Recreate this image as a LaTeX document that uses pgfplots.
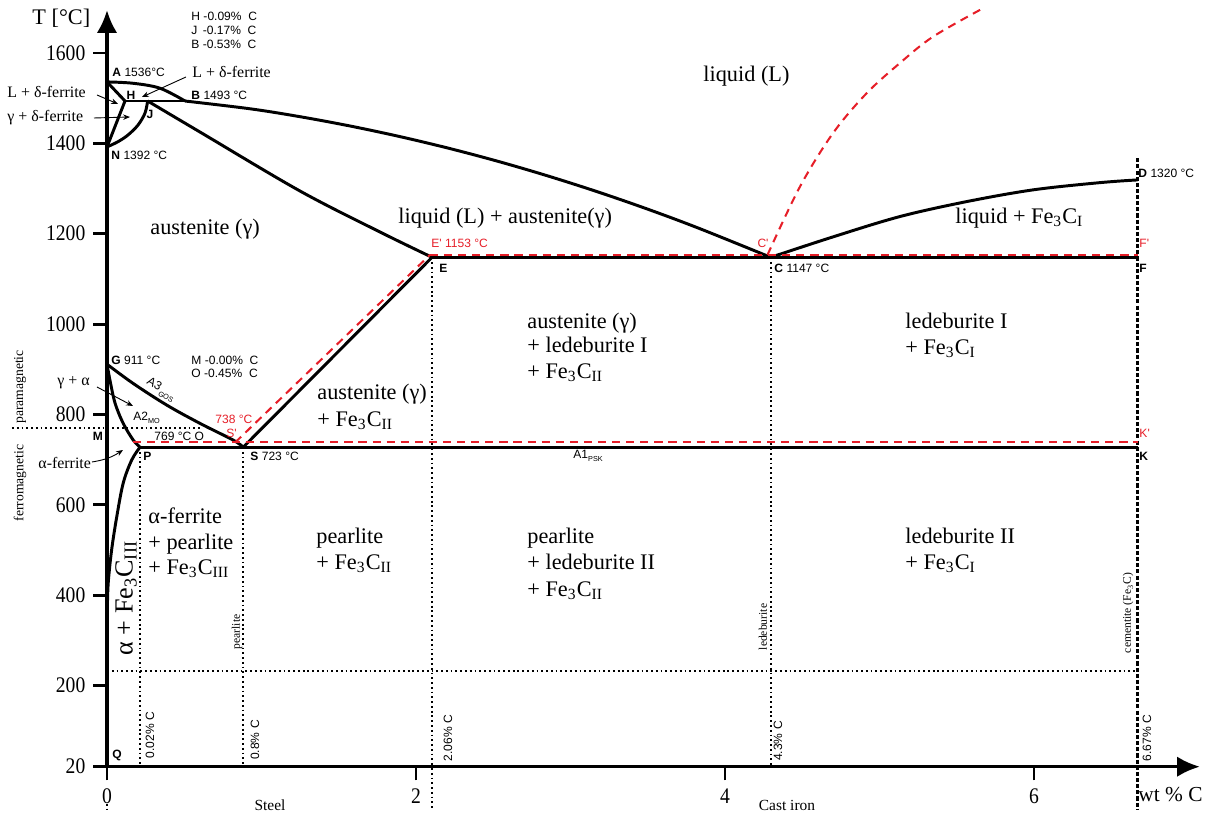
\documentclass[border=0pt]{standalone}
\usepackage{fontspec}
\setmainfont{Liberation Serif}
\newfontfamily\sansf{Liberation Sans}
\newfontfamily\tickf{Liberation Serif}[FakeStretch=0.88]
\usepackage{pgfplots}
\pgfplotsset{compat=1.18}
\usetikzlibrary{arrows.meta}
\definecolor{pred}{RGB}{230,30,40}
\newcommand{\sm}{\sansf\fontsize{5.3}{6}\selectfont}
\newcommand{\rg}{\fontsize{9.8}{11}\selectfont}
\newcommand{\ar}{\fontsize{7}{8}\selectfont}
\newcommand{\rs}{\fontsize{5.1}{6}\selectfont}
\pgfplotsset{
 ph/.style={black, line width=1.3pt, mark=none, line join=round},
 phs/.style={ph, smooth, tension=0.55},
 rd/.style={pred, line width=0.9pt, mark=none, dash pattern=on 3.6pt off 2.6pt},
 dt/.style={black, line width=0.8pt, mark=none, dash pattern=on 0.8pt off 1.3pt},
 ds/.style={black, line width=0.9pt, mark=none, dash pattern=on 1.8pt off 0.9pt},
}
\begin{document}
\begin{tikzpicture}
\begin{axis}[
 x=67.98pt, y=0.19875pt,
 xmin=0, xmax=7.074, ymin=20, ymax=1695,
 axis lines=left,
 axis line style={line width=1.5pt, -{Latex[length=10pt,width=9pt]}},
 clip=false, enlargelimits=false,
 xtick={0,2,4,6}, xticklabels={0,2,4,6},
 ytick={20,200,400,600,800,1000,1200,1400,1600},
 yticklabels={20,200,400,600,800,1000,1200,1400,1600},
 tick align=outside, major tick length=6pt,
 every tick/.append style={black, line width=1.3pt},
 tick label style={font=\tickf\fontsize{9.8}{11}\selectfont},
 minor tick num=0,
]
\coordinate (O) at (axis cs:0,20);
% dotted / dashed guides
\addplot[dt] coordinates {(0.214,727.5) (0.214,20)};
\addplot[dt] coordinates {(0.882,727.5) (0.882,20)};
\addplot[dt] coordinates {(2.104,1147.7) (2.104,-76)};
\addplot[dt] coordinates {(4.296,1147.7) (4.296,20)};
\addplot[ds] coordinates {(6.67,1367) (6.67,-76)};
\addplot[dt] coordinates {(0,231) (6.67,231)};
\addplot[dt] coordinates {(-0.615,770) (0.60,770)};
\addplot[dt] coordinates {(0,-62) (0,-76)};
% delta region
\addplot[ph] coordinates {(0,1536) (0.1165,1493.7)};
\addplot[ph] coordinates {(0.1165,1493.7) (0,1392)};
\addplot[ph] coordinates {(0.1165,1493.7) (0.505,1493.7)};
\addplot[phs] coordinates {(0.263,1493.7) (0.246,1467) (0.201,1440.6) (0.136,1418.5) (0.071,1403.6) (0,1392)};
% liquidus
\addplot[phs] coordinates {(0,1536) (0.168,1533) (0.343,1522) (0.505,1493.7)};
\addplot[phs] coordinates {(0.505,1493.7) (0.926,1476.5) (1.249,1459.0) (1.573,1438.4) (1.896,1414.9) (2.220,1388.4) (2.544,1358.9) (2.867,1326.4) (3.191,1290.9) (3.515,1252.4) (3.838,1211.0) (4.296,1147.7)};
\addplot[phs] coordinates {(4.296,1147.7) (4.70,1193) (5.133,1238) (5.564,1271) (5.994,1297) (6.427,1313) (6.67,1319)};
% solidus
\addplot[phs] coordinates {(0.263,1493.7) (0.602,1425) (1.249,1294.5) (1.767,1203.7) (2.104,1147.7)};
\addplot[ph] coordinates {(2.104,1147.7) (0.882,727.5)};
\addplot[ph] coordinates {(2.104,1147.7) (6.67,1147.7)};
\addplot[ph] coordinates {(0.214,727.5) (6.67,727.5)};
\addplot[phs] coordinates {(0,911) (0.168,868.8) (0.386,820.7) (0.602,780) (0.816,743.2) (0.882,727.5)};
\addplot[phs] coordinates {(0,911) (0.019,876) (0.052,825) (0.105,780) (0.170,743) (0.214,727.5)};
\addplot[phs] coordinates {(0.214,727.5) (0.160,699) (0.105,648) (0.063,573) (0.030,500) (0.008,427) (0.002,367) (0,330)};
% red metastable
\addplot[rd] coordinates {(0.168,738) (6.67,738)};
\addplot[rd] coordinates {(0.83,738) (2.09,1153)};
\addplot[rd] coordinates {(2.09,1153) (6.67,1153)};
\addplot[rd, smooth, tension=0.55] coordinates {(4.275,1153) (4.485,1304) (4.70,1423) (4.917,1511) (5.133,1578) (5.346,1636) (5.67,1699)};
\end{axis}
\begin{scope}[shift={(O)}, x=0.44pt, y=-0.44pt, shift={(-107,-766.7)}, inner sep=0pt]
\node[anchor=west, font=\rg] at (32,18) {T [°C]};
\node[anchor=west, font=\fontsize{9.4}{11}\selectfont] at (1138,795) {wt \% C};
\node[font=\fontsize{6.8}{8}\selectfont] at (270,805) {Steel};
\node[font=\fontsize{6.8}{8}\selectfont] at (787,805) {Cast iron};
% point labels
\node[anchor=west,font=\sm] at (112,72) {\textbf{A} 1536°C};
\node[font=\sm] at (131,95) {\textbf{H}};
\node[font=\sm] at (150,114) {\textbf{J}};
\node[anchor=west,font=\sm] at (191,95) {\textbf{B} 1493 °C};
\node[anchor=west,font=\sm] at (111,155) {\textbf{N} 1392 °C};
\node[anchor=west,font=\sm] at (191,16) {H -0.09\%\ \ C};
\node[anchor=west,font=\sm] at (191,30) {J\ \,-0.17\%\ \ C};
\node[anchor=west,font=\sm] at (191,44) {B -0.53\%\ \ C};
\node[anchor=west,font=\sm] at (111,360) {\textbf{G} 911 °C};
\node[anchor=west,font=\sm] at (191,360) {M -0.00\%\ \ C};
\node[anchor=west,font=\sm] at (191,373) {O -0.45\%\ \ C};
\node[font=\sm] at (98,436) {\textbf{M}};
\node[anchor=west,font=\sm] at (154,436) {769 °C O};
\node[anchor=west,font=\sm] at (133,418) {A2\raisebox{-0.5ex}{\fontsize{3.2}{4}\selectfont MO}};
\node[font=\sm, rotate=-31] at (161,390) {A3\kern0.4pt\raisebox{-0.6ex}{\fontsize{3.2}{4}\selectfont GOS}};
\node[anchor=west,font=\sm] at (143,456) {\textbf{P}};
\node[anchor=west,font=\sm] at (250,456) {\textbf{S} 723 °C};
\node[anchor=west,font=\sm] at (573,456) {A1\raisebox{-0.5ex}{\fontsize{3.2}{4}\selectfont PSK}};
\node[anchor=west,font=\sm] at (1139,456) {\textbf{K}};
\node[anchor=west,font=\sm, text=pred] at (1139,433) {K'};
\node[anchor=west,font=\sm, text=pred] at (431,243) {E' 1153 °C};
\node[anchor=west,font=\sm] at (439,268) {\textbf{E}};
\node[font=\sm, text=pred] at (763,243) {C'};
\node[anchor=west,font=\sm] at (774,268) {\textbf{C} 1147 °C};
\node[anchor=west,font=\sm, text=pred] at (1139,243) {F'};
\node[anchor=west,font=\sm] at (1139,268) {\textbf{F}};
\node[anchor=west,font=\sm] at (1138,173) {\textbf{D} 1320 °C};
\node[anchor=west,font=\sm, text=pred] at (215,419) {738 °C};
\node[anchor=west,font=\sm, text=pred] at (226,433) {S'};
\node[anchor=west,font=\sm] at (112,755) {\textbf{Q}};
% rotated composition labels
\node[rotate=90,font=\sm] at (150,735) {0.02\% C};
\node[rotate=90,font=\sm] at (255,740) {0.8\% C};
\node[rotate=90,font=\sm] at (448,738) {2.06\% C};
\node[rotate=90,font=\sm] at (778,741) {4.3\% C};
\node[rotate=90,font=\sm] at (1147,738) {6.67\% C};
\node[rotate=90,font=\rs] at (237,632) {pearlite};
\node[rotate=90,font=\rs] at (763,627) {ledeburite};
\node[rotate=90,font=\rs] at (1128,613) {cementite (Fe\textsubscript{3}C)};
\node[rotate=90,font=\fontsize{6}{7}\selectfont] at (20,387) {paramagnetic};
\node[rotate=90,font=\fontsize{6}{7}\selectfont] at (20,483) {ferromagnetic};
% region labels
\node[anchor=base west,font=\rg] at (703,81.5) {liquid (L)};
\node[anchor=base west,font=\rg] at (398,223.5) {liquid (L) + austenite(γ)};
\node[anchor=base west,font=\rg] at (150,234.5) {austenite (γ)};
\node[anchor=base west,font=\rg] at (955,223.5) {liquid + Fe\textsubscript{3}C\textsubscript{I}};
\node[anchor=base west,font=\rg] at (527,328.5) {austenite (γ)};
\node[anchor=base west,font=\rg] at (527,352.5) {+ ledeburite I};
\node[anchor=base west,font=\rg] at (527,378.5) {+ Fe\textsubscript{3}C\textsubscript{II}};
\node[anchor=base west,font=\rg] at (905,328.5) {ledeburite I};
\node[anchor=base west,font=\rg] at (905,354.5) {+ Fe\textsubscript{3}C\textsubscript{I}};
\node[anchor=base west,font=\rg] at (317,399.5) {austenite (γ)};
\node[anchor=base west,font=\rg] at (317,426.5) {+ Fe\textsubscript{3}C\textsubscript{II}};
\node[anchor=base west,font=\rg] at (148,523.5) {α-ferrite};
\node[anchor=base west,font=\rg] at (148,549.5) {+ pearlite};
\node[anchor=base west,font=\rg] at (148,574.5) {+ Fe\textsubscript{3}C\textsubscript{III}};
\node[anchor=base west,font=\rg] at (316,543.5) {pearlite};
\node[anchor=base west,font=\rg] at (316,569.5) {+ Fe\textsubscript{3}C\textsubscript{II}};
\node[anchor=base west,font=\rg] at (527,543.5) {pearlite};
\node[anchor=base west,font=\rg] at (527,569.5) {+ ledeburite II};
\node[anchor=base west,font=\rg] at (527,596.5) {+ Fe\textsubscript{3}C\textsubscript{II}};
\node[anchor=base west,font=\rg] at (905,543.5) {ledeburite II};
\node[anchor=base west,font=\rg] at (905,569.5) {+ Fe\textsubscript{3}C\textsubscript{I}};
\node[rotate=90,font=\fontsize{11.5}{13}\selectfont] at (126,598) {α + Fe\textsubscript{3}C\textsubscript{III}};
% arrow labels
\node[anchor=west,font=\ar] at (7,92) {L + δ-ferrite};
\node[anchor=west,font=\ar] at (7,118) {γ + δ-ferrite};
\node[anchor=west,font=\ar] at (192,72) {L + δ-ferrite};
\node[anchor=west,font=\ar] at (57,383) {γ + α};
\node[anchor=west,font=\ar] at (38,463) {α-ferrite};
\begin{scope}[line width=0.4pt, -{Stealth[length=3pt,width=2.4pt]}]
\draw (97,95) -- (118,104);
\draw (94,118) -- (130,117);
\draw (186,77) -- (142,97);
\draw (97,387) -- (133,406);
\draw (92,462) to[bend right=12] (123,450);
\end{scope}
\pgfresetboundingbox
\path[use as bounding box] (0,0) rectangle (1205,816);
\end{scope}
\end{tikzpicture}
\end{document}
